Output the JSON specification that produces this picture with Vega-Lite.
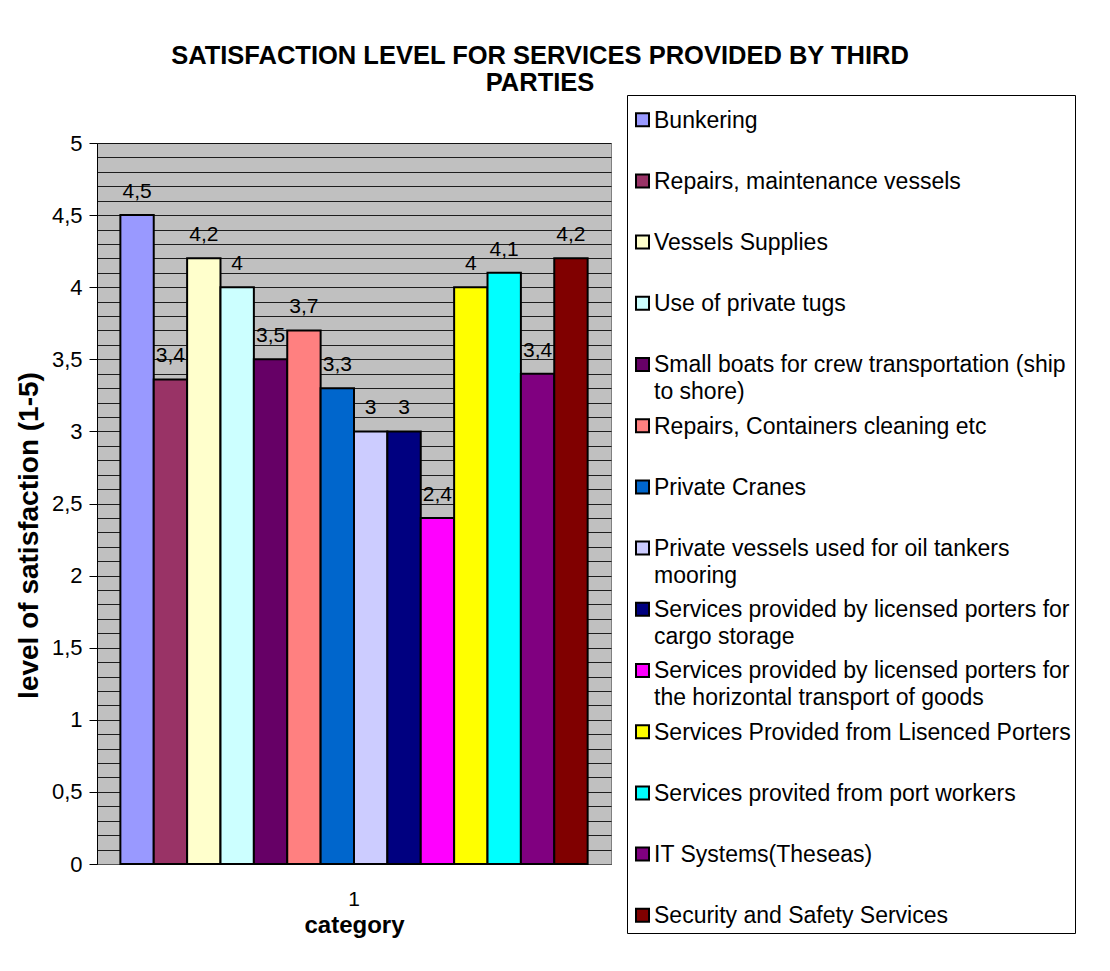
{
  "$schema": "https://vega.github.io/schema/vega-lite/v6.json",
  "autosize": {"type": "none"},
  "width": 514,
  "height": 721,
  "padding": {"left": 97, "top": 143, "right": 499, "bottom": 107},
  "background": "white",
  "title": {
    "text": ["SATISFACTION LEVEL FOR SERVICES PROVIDED BY THIRD", "PARTIES"],
    "font": "Liberation Sans",
    "fontSize": 25.5,
    "fontWeight": "bold",
    "color": "black",
    "anchor": "middle",
    "frame": "group",
    "dx": 186,
    "lineHeight": 27,
    "offset": -2
  },
  "data": {
    "values": [
      {"cat": "1", "service": "Bunkering", "value": 4.5},
      {"cat": "1", "service": "Repairs, maintenance vessels", "value": 3.36},
      {"cat": "1", "service": "Vessels Supplies", "value": 4.2},
      {"cat": "1", "service": "Use of private tugs", "value": 4.0},
      {"cat": "1", "service": "Small boats for crew transportation (ship\nto shore)", "value": 3.5},
      {"cat": "1", "service": "Repairs, Containers cleaning etc", "value": 3.7},
      {"cat": "1", "service": "Private Cranes", "value": 3.3},
      {"cat": "1", "service": "Private vessels  used for oil tankers\nmooring", "value": 3.0},
      {"cat": "1", "service": "Services provided by licensed porters for\ncargo storage", "value": 3.0},
      {"cat": "1", "service": "Services provided by licensed porters for\nthe horizontal transport of goods", "value": 2.4},
      {"cat": "1", "service": "Services Provided from Lisenced Porters", "value": 4.0},
      {"cat": "1", "service": "Services provited from port workers", "value": 4.1},
      {"cat": "1", "service": "IT Systems(Theseas)", "value": 3.4},
      {"cat": "1", "service": "Security and Safety Services", "value": 4.2}
    ]
  },
  "encoding": {
    "x": {
      "field": "cat",
      "type": "nominal",
      "title": "category",
      "scale": {"paddingOuter": 0.05, "paddingInner": 0},
      "axis": {
        "labelAngle": 0,
        "labelFont": "Liberation Sans",
        "labelFontSize": 21,
        "labelColor": "black",
        "labelPadding": 24,
        "ticks": false,
        "domainColor": "#555555",
        "titleFont": "Liberation Sans",
        "titleFontSize": 24,
        "titleFontWeight": "bold",
        "titleColor": "black",
        "titlePadding": 4
      }
    },
    "xOffset": {
      "field": "service",
      "type": "nominal",
      "sort": null,
      "scale": {"paddingInner": 0, "paddingOuter": 0}
    },
    "y": {
      "field": "value",
      "type": "quantitative",
      "scale": {"domain": [0, 5], "nice": false},
      "axis": {
        "values": [0, 0.1, 0.2, 0.3, 0.4, 0.5, 0.6, 0.7, 0.8, 0.9, 1, 1.1, 1.2, 1.3, 1.4, 1.5, 1.6, 1.7, 1.8, 1.9, 2, 2.1, 2.2, 2.3, 2.4, 2.5, 2.6, 2.7, 2.8, 2.9, 3, 3.1, 3.2, 3.3, 3.4, 3.5, 3.6, 3.7, 3.8, 3.9, 4, 4.1, 4.2, 4.3, 4.4, 4.5, 4.6, 4.7, 4.8, 4.9, 5],
        "format": ".1~f",
        "labelExpr": "abs(datum.value * 2 - round(datum.value * 2)) < 0.001 ? datum.label : ''",
        "grid": true,
        "gridColor": "black",
        "gridWidth": 1,
        "gridOpacity": 0.85,
        "domainColor": "black",
        "tickColor": "black",
        "tickSize": 8,
        "tickOpacity": {"condition": {"test": "abs(datum.value * 2 - round(datum.value * 2)) < 0.001", "value": 1}, "value": 0},
        "labelFont": "Liberation Sans",
        "labelFontSize": 22,
        "labelColor": "black",
        "labelPadding": 7,
        "title": "level of satisfaction (1-5)",
        "titleFont": "Liberation Sans",
        "titleFontSize": 28,
        "titleFontWeight": "bold",
        "titleColor": "black",
        "titleX": -54,
        "titleY": 392
      }
    }
  },
  "layer": [
    {
      "mark": {"type": "bar", "stroke": "black", "strokeWidth": 2, "opacity": 1},
      "encoding": {
        "color": {
          "field": "service",
          "type": "nominal",
          "sort": null,
          "scale": {
            "domain": [
              "Bunkering",
              "Repairs, maintenance vessels",
              "Vessels Supplies",
              "Use of private tugs",
              "Small boats for crew transportation (ship\nto shore)",
              "Repairs, Containers cleaning etc",
              "Private Cranes",
              "Private vessels  used for oil tankers\nmooring",
              "Services provided by licensed porters for\ncargo storage",
              "Services provided by licensed porters for\nthe horizontal transport of goods",
              "Services Provided from Lisenced Porters",
              "Services provited from port workers",
              "IT Systems(Theseas)",
              "Security and Safety Services"
            ],
            "range": ["#9999FF", "#993366", "#FFFFCC", "#CCFFFF", "#660066", "#FF8080", "#0066CC", "#CCCCFF", "#000080", "#FF00FF", "#FFFF00", "#00FFFF", "#800080", "#800000"]
          },
          "legend": {
            "orient": "none",
            "legendX": 530,
            "legendY": -48,
            "title": " ",
            "titleFontSize": 2,
            "titlePadding": 15,
            "strokeColor": "black",
            "fillColor": "white",
            "padding": 4,
            "symbolType": "M-1,-2.2L1,-2.2L1,-0.2L-1,-0.2Z",
            "symbolSize": 169,
            "symbolStrokeColor": "black",
            "symbolStrokeWidth": 2,
            "symbolOpacity": 1,
            "labelFont": "Liberation Sans",
            "labelFontSize": 23,
            "labelColor": "black",
            "labelLimit": 600,
            "labelOffset": 0,
            "labelBaseline": "alphabetic",
            "labelExpr": "split(datum.label, '\\n')",
            "rowPadding": 10.2,
            "gridAlign": "all"
          }
        }
      }
    },
    {
      "mark": {"type": "text", "font": "Liberation Sans", "fontSize": 21, "color": "black", "baseline": "alphabetic", "dy": -17},
      "encoding": {
        "text": {"field": "value", "type": "quantitative", "format": ".1~f"}
      }
    }
  ],
  "config": {
    "locale": {"number": {"decimal": ",", "thousands": ".", "grouping": [3], "currency": ["", " €"]}},
    "view": {"fill": "#C0C0C0", "stroke": "#808080", "strokeWidth": 1},
    "style": {"guide-label": {"lineHeight": 27}}
  }
}
